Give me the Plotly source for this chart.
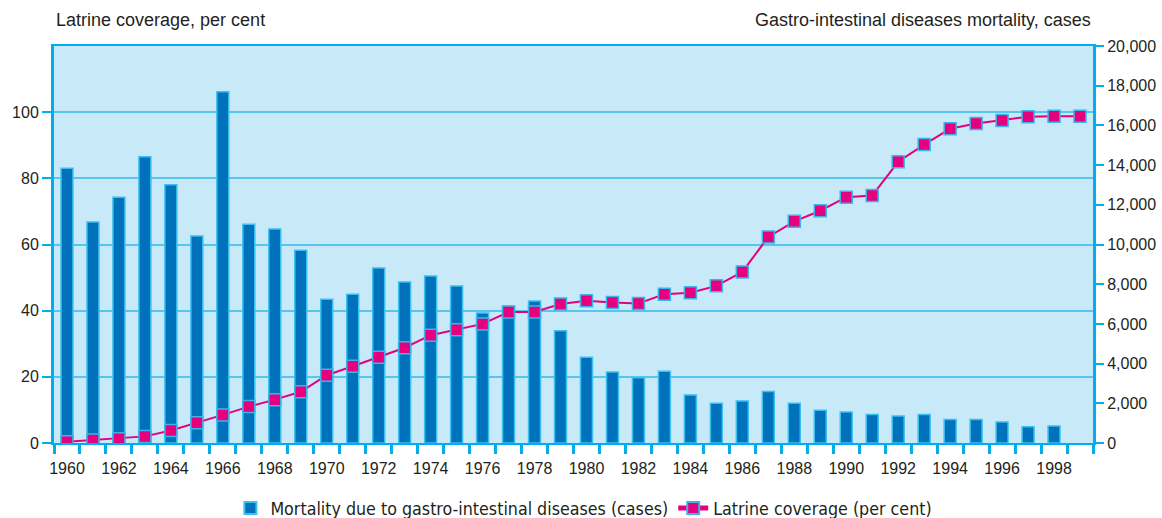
import plotly.graph_objects as go

years = list(range(1960, 2000))
bar_years = list(range(1960, 1999))

mortality = [13840, 11130, 12380, 14420, 13010, 10430, 17700, 11020, 10780, 9710,
             7240, 7490, 8820, 8110, 8410, 7910, 6550, 6890, 7150, 5660,
             4320, 3580, 3290, 3610, 2420, 2000, 2120, 2600, 2000, 1650,
             1560, 1430, 1360, 1430, 1190, 1190, 1060, 820, 860]

latrine = [0.4, 0.9, 1.3, 2.0, 3.8, 6.1, 8.5, 11.0, 13.1, 15.5,
           20.5, 23.2, 25.9, 28.8, 32.6, 34.2, 36.0, 39.6, 39.6, 42.0,
           43.0, 42.5, 42.2, 45.0, 45.4, 47.5, 51.7, 62.3, 67.0, 70.2,
           74.3, 74.8, 85.0, 90.2, 95.0, 96.6, 97.5, 98.6, 98.8, 98.8]

left_ticks = [0, 20, 40, 60, 80, 100]
x_tick_years = list(range(1960, 1999, 2))
boundaries = [y - 0.5 for y in years] + [years[-1] + 0.5]

CYAN = "#00aeef"
GRID = "#55c6f0"
TEXT = "#231f20"
BASEFONT = "Liberation Sans, Arial, sans-serif"
NARROW = "Liberation Sans Narrow, Arial Narrow, DejaVu Sans Condensed, sans-serif"

fig = go.Figure()
fig.add_trace(go.Bar(
    x=bar_years, y=mortality, yaxis="y", width=0.46,
    name="Mortality due to gastro-intestinal diseases (cases)",
    marker=dict(color="#0072bc", line=dict(color="#3cc0f0", width=1.5)),
))
fig.add_trace(go.Scatter(
    x=years, y=latrine, yaxis="y2", mode="lines+markers",
    name="Latrine coverage (per cent)",
    line=dict(color="#e6007e", width=2),
    marker=dict(symbol="square", size=12, color="#e6007e",
                line=dict(color="#3cb4ea", width=1.5)),
))

fig.update_layout(
    width=1162, height=518,
    margin=dict(l=54, r=69, t=46, b=75, autoexpand=False),
    paper_bgcolor="white", plot_bgcolor="#c7e9f8",
    font=dict(family=BASEFONT, size=16, color=TEXT),
    showlegend=True,
    legend=dict(orientation="h", x=0.51, xanchor="center", y=-0.165, yanchor="middle",
                font=dict(family=NARROW, size=17.7, color=TEXT), bgcolor="rgba(0,0,0,0)",
                itemsizing="constant"),
    xaxis=dict(range=[1959.5, 1999.5], tickmode="array", tickvals=x_tick_years,
               ticks="outside", ticklen=10, tickcolor="rgba(0,0,0,0)",
               showline=True, linecolor=CYAN, linewidth=2, mirror=True,
               showgrid=False, zeroline=False, tickfont=dict(size=16),
               minor=dict(tickmode="array", tickvals=boundaries, ticks="outside",
                          ticklen=9, tickwidth=3, tickcolor=CYAN, showgrid=False)),
    yaxis=dict(side="right", range=[0, 20000], dtick=2000, tickformat=",",
               ticks="outside", ticklen=8, tickwidth=2, tickcolor=CYAN,
               showline=True, linecolor=CYAN, linewidth=3,
               showgrid=False, zeroline=False, tickfont=dict(size=16)),
    yaxis2=dict(overlaying="y", side="left", range=[0, 120], tickmode="array",
                tickvals=left_ticks, ticks="outside", ticklen=9, tickwidth=2, tickcolor=CYAN,
                showline=True, linecolor=CYAN, linewidth=3,
                showgrid=True, gridcolor=GRID, gridwidth=1.5, zeroline=False,
                tickfont=dict(size=16)),
    annotations=[
        dict(text="Latrine coverage, per cent", xref="paper", yref="paper",
             x=0, y=1.066, xanchor="left", yanchor="middle", showarrow=False,
             font=dict(size=18, color=TEXT)),
        dict(text="Gastro-intestinal diseases mortality, cases", xref="paper", yref="paper",
             x=1.0, y=1.066, xanchor="right", yanchor="middle", showarrow=False,
             font=dict(size=18, color=TEXT)),
    ],
)

fig.write_html("out.html", config={"displayModeBar": False},
               post_script="document.body.style.margin='0';document.body.style.padding='0';")
